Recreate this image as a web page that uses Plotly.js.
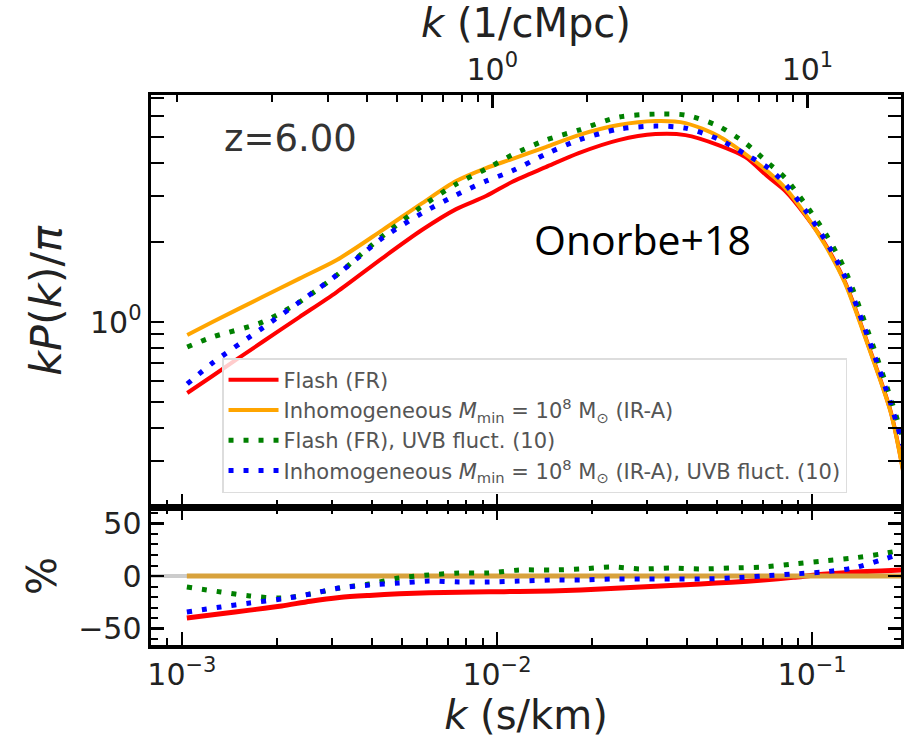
<!DOCTYPE html>
<html><head><meta charset="utf-8">
<script src="https://cdn.plot.ly/plotly-3.0.1.min.js"></script>
<style>html,body{margin:0;padding:0;background:#fff;} #chart{width:904px;height:741px;}</style>
</head><body><div id="chart"></div>
<script>
// k in s/km for the upper panel
const kMain = [0.00104, 0.00125, 0.00180, 0.00236, 0.00310, 0.00433, 0.00579, 0.00742, 0.00923, 0.01115, 0.01428, 0.01816, 0.02432, 0.03184, 0.03962, 0.05042, 0.06138, 0.07261, 0.08222, 0.09506, 0.1100, 0.1272, 0.1503, 0.1778, 0.194];
// kP(k)/pi
const pFlash = [0.540, 0.626, 0.841, 1.044, 1.298, 1.744, 2.230, 2.669, 2.989, 3.380, 3.845, 4.343, 4.862, 5.122, 5.077, 4.655, 4.194, 3.525, 3.121, 2.534, 1.970, 1.416, 0.826, 0.457, 0.279];
const pInhomo = [0.893, 1.000, 1.243, 1.459, 1.714, 2.224, 2.812, 3.405, 3.812, 4.122, 4.575, 5.077, 5.539, 5.734, 5.636, 5.034, 4.305, 3.682, 3.204, 2.556, 1.952, 1.403, 0.819, 0.454, 0.276];
const pFlashUVB = [0.805, 0.878, 1.000, 1.190, 1.504, 2.111, 2.740, 3.317, 3.779, 4.268, 4.862, 5.303, 5.937, 6.094, 6.041, 5.490, 4.737, 3.981, 3.495, 2.788, 2.167, 1.571, 0.925, 0.512, 0.365];
const pInhomoUVB = [0.584, 0.700, 0.949, 1.190, 1.504, 2.075, 2.578, 3.015, 3.405, 3.714, 4.305, 4.862, 5.349, 5.490, 5.396, 4.904, 4.305, 3.812, 3.317, 2.646, 2.039, 1.479, 0.878, 0.490, 0.343];

// k in s/km for the lower (percentage difference) panel
const kRatio = [0.001037, 0.001329, 0.001642, 0.002073, 0.002559, 0.003162, 0.003934, 0.004896, 0.006091, 0.007581, 0.009434, 0.01174, 0.01482, 0.01844, 0.02295, 0.02855, 0.03553, 0.04421, 0.05542, 0.06997, 0.08708, 0.1083, 0.1348, 0.1654, 0.1941];
const rFlash = [-40, -36, -32.5, -28.5, -24, -20.5, -18.5, -17, -16, -15.5, -15, -14.8, -14.3, -13.3, -11.8, -10.5, -9, -7.6, -5.9, -3.8, -1.2, 1.6, 3.6, 4.8, 5.7];
const rInhomo = [0, 0, 0, 0, 0, 0, 0, 0, 0, 0, 0, 0, 0, 0, 0, 0, 0, 0, 0, 0, 0, 0, 0, 0, 0];
const rFlashUVB = [-10.5, -15.2, -19, -21, -17.1, -11.4, -7.6, -1.9, 1, 2.9, 2.9, 5.7, 5.7, 6.7, 8.6, 6.7, 7.6, 6.7, 7.6, 8.6, 11.4, 14.3, 17.1, 21, 24.8];
const rInhomoUVB = [-34.3, -29.5, -25.7, -21.9, -17.1, -11.4, -8.6, -6.7, -4.8, -5.7, -5.7, -4.8, -3.8, -3.8, -2.9, -2.9, -2.9, -2.9, -1.9, 0, 1.9, 3.8, 7.6, 15.2, 21.9];

const seriesNames = [
  'Flash (FR)',
  'Inhomogeneous <i>M</i><sub>min</sub> = 10<sup>8</sup> M<sub>⊙</sub> (IR-A)',
  'Flash (FR), UVB fluct. (10)',
  'Inhomogeneous <i>M</i><sub>min</sub> = 10<sup>8</sup> M<sub>⊙</sub> (IR-A), UVB fluct. (10)'
];
const bottomTickVals = [0.001, 0.01, 0.1];
const bottomTickText = ['10<sup>−3</sup>', '10<sup>−2</sup>', '10<sup>−1</sup>'];
const bottomMinor = [0.0008, 0.0009, 0.002, 0.003, 0.004, 0.005, 0.006, 0.007, 0.008, 0.009, 0.02, 0.03, 0.04, 0.05, 0.06, 0.07, 0.08, 0.09, 0.2];
const topTickVals = [1, 10];
const topTickText = ['10<sup>0</sup>', '10<sup>1</sup>'];
const topMinor = [0.1, 0.2, 0.3, 0.4, 0.5, 0.6, 0.7, 0.8, 0.9, 2, 3, 4, 5, 6, 7, 8, 9, 20];
const yTickVals = [1];
const yTickText = ['10<sup>0</sup>'];
const yMinor = [0.2, 0.3, 0.4, 0.5, 0.6, 0.7, 0.8, 0.9, 2, 3, 4, 5, 6, 7];
const rTickVals = [-50, 0, 50];
const rTickText = ['−50', '0', '50'];

const RED = '#ff0000', ORANGE = '#ffa500', GREEN = '#008000', BLUE = '#0000ff';
const DOT = '5px,10px';
const SM = 0.8;

const traces = [
  {x: kMain, y: pFlash, name: seriesNames[0], legendgroup: 'a', type: 'scatter', mode: 'lines', line: {color: RED, width: 4, shape: 'spline', smoothing: SM}, xaxis: 'x', yaxis: 'y'},
  {x: kMain, y: pInhomo, name: seriesNames[1], legendgroup: 'b', type: 'scatter', mode: 'lines', line: {color: ORANGE, width: 4, shape: 'spline', smoothing: SM}, xaxis: 'x', yaxis: 'y'},
  {x: kMain, y: pFlashUVB, name: seriesNames[2], legendgroup: 'c', type: 'scatter', mode: 'lines', line: {color: GREEN, width: 5, dash: DOT, shape: 'spline', smoothing: SM}, xaxis: 'x', yaxis: 'y'},
  {x: kMain, y: pInhomoUVB, name: seriesNames[3], legendgroup: 'd', type: 'scatter', mode: 'lines', line: {color: BLUE, width: 5, dash: DOT, shape: 'spline', smoothing: SM}, xaxis: 'x', yaxis: 'y'},
  {x: kRatio, y: rFlash, showlegend: false, type: 'scatter', mode: 'lines', line: {color: RED, width: 5, shape: 'spline', smoothing: SM}, xaxis: 'x2', yaxis: 'y2'},
  {x: kRatio, y: rInhomo, showlegend: false, type: 'scatter', mode: 'lines', line: {color: '#d8a23c', width: 5}, xaxis: 'x2', yaxis: 'y2'},
  {x: kRatio, y: rFlashUVB, showlegend: false, type: 'scatter', mode: 'lines', line: {color: GREEN, width: 5, dash: DOT, shape: 'spline', smoothing: SM}, xaxis: 'x2', yaxis: 'y2'},
  {x: kRatio, y: rInhomoUVB, showlegend: false, type: 'scatter', mode: 'lines', line: {color: BLUE, width: 5, dash: DOT, shape: 'spline', smoothing: SM}, xaxis: 'x2', yaxis: 'y2'},
  {x: [], y: [], showlegend: false, type: 'scatter', mode: 'lines', xaxis: 'x3', yaxis: 'y', hoverinfo: 'skip'}
];

const FONT = 'DejaVu Sans';
const tickFont = {family: FONT, size: 30, color: '#222'};
const minorStyle = {ticks: 'inside', ticklen: 7, tickwidth: 2, tickcolor: 'black', showgrid: false};
const baseAxis = {showline: true, linewidth: 3.5, linecolor: 'black', ticks: 'inside', ticklen: 13, tickwidth: 2.5, tickcolor: 'black', showgrid: false, zeroline: false, tickfont: tickFont, tickmode: 'array'};

const layout = {
  width: 904, height: 741,
  margin: {l: 151, r: 3, t: 95, b: 96},
  paper_bgcolor: 'white', plot_bgcolor: 'white',
  showlegend: true,
  legend: {x: 0.0947, y: 0.5218, xanchor: 'left', yanchor: 'top', bgcolor: 'rgba(255,255,255,0.8)', bordercolor: '#dddddd', borderwidth: 1.5, font: {family: FONT, size: 21, color: '#555'}, tracegroupgap: 8, traceorder: 'normal', itemwidth: 50},
  xaxis: Object.assign({}, baseAxis, {type: 'log', range: [-3.098, -0.718], anchor: 'y', mirror: false, tickvals: bottomTickVals, showticklabels: false, minor: Object.assign({tickmode: 'array', tickvals: bottomMinor}, minorStyle)}),
  xaxis2: Object.assign({}, baseAxis, {type: 'log', range: [-3.098, -0.718], anchor: 'y2', mirror: 'allticks', tickvals: bottomTickVals, ticktext: bottomTickText, minor: Object.assign({tickmode: 'array', tickvals: bottomMinor}, minorStyle), title: {text: '<i>k</i> (s/km)', font: {family: FONT, size: 40, color: '#222'}, standoff: 4}}),
  xaxis3: Object.assign({}, baseAxis, {type: 'log', range: [-1.083, 1.297], overlaying: 'x', anchor: 'y', side: 'top', tickvals: topTickVals, ticktext: topTickText, minor: Object.assign({tickmode: 'array', tickvals: topMinor}, minorStyle), title: {text: '<i>k</i> (1/cMpc)', font: {family: FONT, size: 40, color: '#222'}, standoff: 4}}),
  yaxis: Object.assign({}, baseAxis, {type: 'log', domain: [0.2509, 1], range: [-0.698, 0.857], anchor: 'x', mirror: 'allticks', tickvals: yTickVals, ticktext: yTickText, minor: Object.assign({tickmode: 'array', tickvals: yMinor}, minorStyle, {ticklen: 9}), title: {text: '<i>kP</i>(<i>k</i>)/<i>π</i>', font: {family: FONT, size: 43, color: '#222'}, standoff: 16}}),
  yaxis2: Object.assign({}, baseAxis, {domain: [0, 0.2509], range: [-65.7, 65.7], anchor: 'x2', mirror: 'allticks', tickvals: rTickVals, ticktext: rTickText, minor: Object.assign({tickmode: 'linear', dtick: 10, tick0: 0}, minorStyle), title: {text: '%', font: {family: FONT, size: 40, color: '#222'}, standoff: 10}}),
  shapes: [
    {type: 'line', xref: 'x2 domain', yref: 'y2', x0: 0, x1: 1, y0: 0, y1: 0, line: {color: '#cccccc', width: 4}, layer: 'below'}
  ],
  annotations: [
    {text: 'z=6.00', xref: 'paper', yref: 'paper', x: 0.0947, y: 0.9218, xanchor: 'left', yanchor: 'middle', showarrow: false, font: {family: FONT, size: 37, color: '#333'}},
    {text: 'Onorbe+18', xref: 'paper', yref: 'paper', x: 0.508, y: 0.738, xanchor: 'left', yanchor: 'middle', showarrow: false, font: {family: 'Open Sans', size: 41, color: '#000'}}
  ]
};

Plotly.newPlot('chart', traces, layout, {displayModeBar: false, staticPlot: true});
</script>
</body></html>
